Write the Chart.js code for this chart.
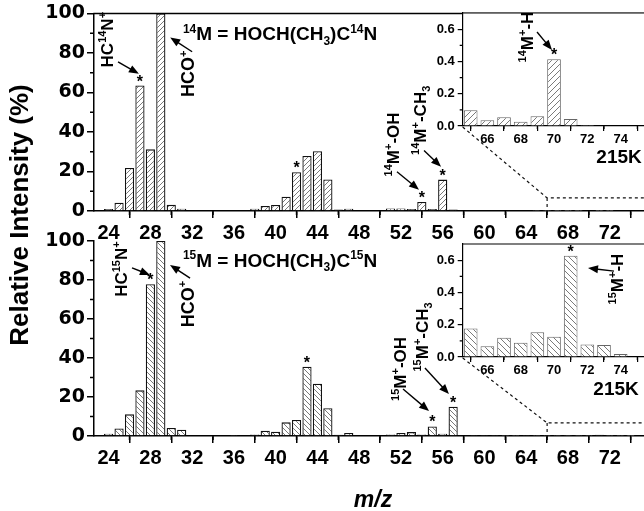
<!DOCTYPE html>
<html>
<head>
<meta charset="utf-8">
<script src="https://cdn.jsdelivr.net/npm/chart.js@4.4.1/dist/chart.umd.min.js"></script>
<style>
  html, body { margin: 0; padding: 0; background: #fff; overflow: hidden; }
  #wrap { position: relative; width: 644px; height: 511px; }
  #wrap canvas { position: absolute; left: 0; top: 0; }
</style>
</head>
<body>
<div id="wrap">
  <canvas id="top14" width="644" height="511"></canvas>
  <canvas id="bot15" width="644" height="511"></canvas>
  <canvas id="ins14" width="644" height="511"></canvas>
  <canvas id="ins15" width="644" height="511"></canvas>
</div>
<script>
// m/z channels of the full spectra
const mzMain = [24, 25, 26, 27, 28, 29, 30, 31, 32, 33, 34, 35, 36, 37, 38, 39, 40, 41, 42, 43,
  44, 45, 46, 47, 48, 49, 50, 51, 52, 53, 54, 55, 56, 57, 58, 59, 60, 61, 62, 63, 64];
// relative intensity (%), HOCH(CH3)C14N
const int14 = [1.0, 4.2, 21.8, 63.5, 31.2, 100, 3.1, 1.2, 0.3, 0, 0, 0, 0.3, 0.5, 1.2, 2.5, 3.0, 7.2, 19.6, 27.8,
  30.2, 16.0, 0.7, 1.2, 0, 0, 0.3, 1.3, 1.3, 1.0, 4.6, 1.0, 15.9, 0.7, 0.3, 0, 0.3, 0.3, 0, 0, 0];
// relative intensity (%), HOCH(CH3)C15N
const int15 = [1.2, 3.9, 11.1, 23.4, 77.8, 100, 4.1, 3.2, 0.3, 0, 0, 0, 0.2, 0.4, 0.8, 2.7, 2.2, 7.0, 8.2, 35.5,
  26.8, 14.2, 0.7, 1.5, 0, 0, 0.3, 0.8, 1.5, 2.0, 0.8, 4.9, 1.2, 15.0, 0.5, 0.2, 0.2, 0.2, 0.1, 0.1, 0.2];
// zoomed region (insets)
const mzInset = [65, 66, 67, 68, 69, 70, 71, 72, 73, 74];
const ins14 = [0.097, 0.035, 0.054, 0.027, 0.060, 0.414, 0.043, 0.006, 0, 0];
const ins15 = [0.176, 0.066, 0.120, 0.089, 0.153, 0.126, 0.627, 0.077, 0.075, 0.019];

const mainXTicks = [24, 28, 32, 36, 40, 44, 48, 52, 56, 60, 64, 68, 72];
const mainXMinor = [26, 30, 34, 38, 42, 46, 50, 54, 58, 62, 66, 70, 74];
const mainYTicks = [0, 20, 40, 60, 80, 100];
const mainYMinor = [10, 30, 50, 70, 90];
const insXTicks = [66, 68, 70, 72, 74];
const insXMinor = [65, 67, 69, 71, 73, 75];
const insYTicks = [0, 0.2, 0.4, 0.6];
const insYMinor = [0.1, 0.3, 0.5];

// starred peaks
const stars14 = [27, 42, 54, 56];
const stars15 = [28, 43, 55, 57];
const starsIns14 = [70];
const starsIns15 = [71];

Chart.defaults.font.family = "'Liberation Sans', Arial, Helvetica, sans-serif";
Chart.defaults.font.weight = 'bold';
Chart.defaults.color = '#000';

const FONT = "'Liberation Sans', Arial, sans-serif";

function hatch(ctx, dir, s) {
  const c = document.createElement('canvas');
  c.width = s; c.height = s;
  const g = c.getContext('2d');
  g.fillStyle = '#fff';
  g.fillRect(0, 0, s, s);
  g.strokeStyle = '#7a7a7a';
  g.lineWidth = 1;
  g.beginPath();
  if (dir === '/') {
    g.moveTo(-1, s + 1); g.lineTo(s + 1, -1);
    g.moveTo(-1, 1); g.lineTo(1, -1);
    g.moveTo(s - 1, s + 1); g.lineTo(s + 1, s - 1);
  } else {
    g.moveTo(-1, -1); g.lineTo(s + 1, s + 1);
    g.moveTo(s - 1, -1); g.lineTo(s + 1, 1);
    g.moveTo(-1, s - 1); g.lineTo(1, s + 1);
  }
  g.stroke();
  return ctx.createPattern(c, 'repeat');
}

// text with super/subscripts, centred on (x, y); rot = true reads bottom-to-top
function drawRich(ctx, runs, x, y, size, rot) {
  ctx.save();
  ctx.translate(x, y);
  if (rot) ctx.rotate(-Math.PI / 2);
  ctx.fillStyle = '#000';
  ctx.textBaseline = 'alphabetic';
  ctx.textAlign = 'left';
  const fontOf = m => 'bold ' + (m ? Math.round(size * 0.62) : size) + 'px ' + FONT;
  let w = 0;
  runs.forEach(([t, m]) => { ctx.font = fontOf(m); w += ctx.measureText(t).width; });
  let cx = -w / 2;
  const base = size * 0.36;
  runs.forEach(([t, m]) => {
    ctx.font = fontOf(m);
    const dy = m === 'sup' ? -size * 0.4 : m === 'sub' ? size * 0.22 : 0;
    ctx.fillText(t, cx, base + dy);
    cx += ctx.measureText(t).width;
  });
  ctx.restore();
}

function arrow(ctx, x1, y1, x2, y2) {
  const ang = Math.atan2(y2 - y1, x2 - x1);
  const L = 10, W = 4;
  ctx.save();
  ctx.strokeStyle = '#000';
  ctx.fillStyle = '#000';
  ctx.lineWidth = 1.4;
  ctx.beginPath();
  ctx.moveTo(x1, y1);
  ctx.lineTo(x2 - L * 0.8 * Math.cos(ang), y2 - L * 0.8 * Math.sin(ang));
  ctx.stroke();
  ctx.beginPath();
  ctx.moveTo(x2, y2);
  ctx.lineTo(x2 - L * Math.cos(ang) + W * Math.sin(ang), y2 - L * Math.sin(ang) - W * Math.cos(ang));
  ctx.lineTo(x2 - L * Math.cos(ang) - W * Math.sin(ang), y2 - L * Math.sin(ang) + W * Math.cos(ang));
  ctx.closePath();
  ctx.fill();
  ctx.restore();
}

// axis frame: top border, minor ticks, white plot background for insets
function framePlugin(cfg) {
  return {
    id: 'frame',
    beforeDraw(chart) {
      if (!cfg.white) return;
      const a = chart.chartArea, ctx = chart.ctx;
      ctx.save();
      ctx.fillStyle = '#fff';
      ctx.fillRect(a.left, a.top, a.right - a.left, a.bottom - a.top);
      ctx.restore();
    },
    afterDraw(chart) {
      const { ctx, chartArea: a } = chart;
      const x = chart.scales.x, y = chart.scales.y;
      ctx.save();
      ctx.strokeStyle = '#000';
      ctx.lineWidth = cfg.lw;
      ctx.beginPath();
      if (cfg.topBorder) { ctx.moveTo(a.left - 0.7, a.top); ctx.lineTo(a.right, a.top); }
      cfg.xMinor.forEach(v => {
        const p = x.getPixelForValue(v);
        if (p > a.left && p < a.right) { ctx.moveTo(p, a.bottom); ctx.lineTo(p, a.bottom + cfg.minor); }
      });
      cfg.yMinor.forEach(v => {
        const p = y.getPixelForValue(v);
        ctx.moveTo(a.left, p); ctx.lineTo(a.left - cfg.minor, p);
      });
      ctx.stroke();
      ctx.restore();
    }
  };
}

function notesPlugin(cfg) {
  return {
    id: 'notes',
    afterDraw(chart) {
      const ctx = chart.ctx;
      const x = chart.scales.x, y = chart.scales.y;
      const px = v => x.getPixelForValue(v), py = v => y.getPixelForValue(v);
      const pts = chart.data.datasets[0].data;
      (cfg.stars || []).forEach(m => {
        const d = pts.find(p => p.x === m);
        ctx.save();
        ctx.font = 'bold 16px ' + FONT;
        ctx.textAlign = 'center';
        ctx.textBaseline = 'alphabetic';
        ctx.fillText('*', px(m), py(d.y) + 1);
        ctx.restore();
      });
      (cfg.labels || []).forEach(l => drawRich(ctx, l.runs, px(l.x), py(l.y), l.size, l.rot));
      (cfg.arrows || []).forEach(r => arrow(ctx, px(r[0]), py(r[1]), px(r[2]), py(r[3])));
      if (cfg.extra) cfg.extra(chart);
    }
  };
}

function makeChart(id, cfg) {
  const el = document.getElementById(id);
  const ctx = el.getContext('2d');
  const data = cfg.mz.map((m, i) => ({ x: m, y: cfg.vals[i] }));
  const axisGrid = { drawOnChartArea: false, drawTicks: true, tickLength: cfg.tl, color: '#000', lineWidth: cfg.lw };
  return new Chart(el, {
    type: 'bar',
    data: {
      datasets: [{
        data,
        backgroundColor: hatch(ctx, cfg.dir, cfg.hs),
        borderColor: cfg.edge,
        borderWidth: cfg.bw,
        barPercentage: cfg.bp,
        categoryPercentage: 1
      }]
    },
    options: {
      responsive: false,
      animation: false,
      events: [],
      layout: { padding: cfg.pad },
      plugins: { legend: { display: false }, tooltip: { enabled: false } },
      scales: {
        x: {
          type: 'linear', min: cfg.xmin, max: cfg.xmax, offset: false,
          afterFit: s => { s.height = cfg.xh; },
          afterBuildTicks: s => { s.ticks = cfg.xt.map(v => ({ value: v })); },
          ticks: { font: { size: cfg.fx, weight: 'bold' }, padding: cfg.xpad, autoSkip: false, maxRotation: 0 },
          grid: axisGrid,
          border: { color: '#000', width: cfg.lw }
        },
        y: {
          min: cfg.ymin, max: cfg.ymax,
          afterFit: s => { s.width = cfg.yw; },
          afterBuildTicks: s => { s.ticks = cfg.yt.map(v => ({ value: v })); },
          ticks: { font: cfg.yfont, padding: cfg.ypad, callback: cfg.yfmt },
          grid: axisGrid,
          border: { color: '#000', width: cfg.lw }
        }
      }
    },
    plugins: [framePlugin(cfg), notesPlugin(cfg)]
  });
}

const sup = t => [t, 'sup'], sub = t => [t, 'sub'], n = t => [t, ''];

function mainCfg(vals, pad, dir, stars, labels, arrows, extra) {
  return {
    mz: mzMain.concat(mzInset), vals: vals.concat(dir === '/' ? ins14 : ins15),
    xmin: 22.6, xmax: 75.28, ymin: 0, ymax: 100,
    xt: mainXTicks, yt: mainYTicks, xMinor: mainXMinor, yMinor: mainYMinor,
    pad, xh: 30, yw: 94, fx: 20, xpad: 3, ypad: 2, tl: 7, minor: 4, lw: 1.5,
    yfont: { family: "'DejaVu Sans', sans-serif", size: 19, weight: 'bold' },
    dir, hs: 5, edge: '#111', bw: 1.3, bp: 0.88,
    topBorder: dir === '/', white: false,
    stars, labels, arrows, extra
  };
}

function insetCfg(vals, pad, dir, stars, labels, arrows, extra) {
  return {
    mz: mzInset, vals,
    xmin: 64.52, xmax: 75.4, ymin: 0, ymax: 0.7,
    xt: insXTicks, yt: insYTicks, xMinor: insXMinor, yMinor: insYMinor,
    pad, xh: 25, yw: 40, fx: 13, xpad: 1, ypad: 3, tl: 5, minor: 3, lw: 1.2,
    yfont: { size: 13, weight: 'bold' },
    yfmt: v => v.toFixed(1),
    dir, hs: 6, edge: '#666', bw: 1, bp: 0.82,
    topBorder: true, white: true,
    stars, labels, arrows, extra
  };
}

function text215(chart, xv, yv) {
  const ctx = chart.ctx;
  ctx.save();
  ctx.font = 'bold 19px ' + FONT;
  ctx.textAlign = 'center';
  ctx.textBaseline = 'alphabetic';
  ctx.fillText('215K', chart.scales.x.getPixelForValue(xv), chart.scales.y.getPixelForValue(yv) + 7);
  ctx.restore();
}

const top14 = makeChart('top14', mainCfg(int14, { left: 0, top: 13, right: 0, bottom: 270 }, '/', stars14, [
  { runs: [n('HC'), sup('14'), n('N'), sup('+')], x: 23.85, y: 86.7, size: 17, rot: true },
  { runs: [n('HCO'), sup('+')], x: 31.6, y: 69.4, size: 18, rot: true },
  { runs: [sup('14'), n('M = HOCH(CH'), sub('3'), n(')C'), sup('14'), n('N')], x: 40.42, y: 89.8, size: 19, rot: false },
  { runs: [sup('14'), n('M'), sup('+'), n('-OH')], x: 51.24, y: 33.7, size: 17, rot: true },
  { runs: [sup('14'), n('M'), sup('+'), n('-CH'), sub('3')], x: 53.83, y: 45.9, size: 17, rot: true }
], [
  [24.9, 75.5, 26.9, 69.4],
  [32.0, 80.6, 29.9, 87.8],
  [51.62, 19.9, 53.73, 10.7],
  [54.21, 30.6, 55.84, 22.4]
], chart => text215(chart, 72.89, 27.6)));

const bot15 = makeChart('bot15', mainCfg(int15, { left: 0, top: 241, right: 0, bottom: 45 }, '\\', stars15, [
  { runs: [n('HC'), sup('15'), n('N'), sup('+')], x: 25.19, y: 85.6, size: 17, rot: true },
  { runs: [n('HCO'), sup('+')], x: 31.51, y: 67.7, size: 18, rot: true },
  { runs: [sup('15'), n('M = HOCH(CH'), sub('3'), n(')C'), sup('15'), n('N')], x: 40.42, y: 90.3, size: 19, rot: false },
  { runs: [sup('15'), n('M'), sup('+'), n('-OH')], x: 51.91, y: 34.4, size: 17, rot: true },
  { runs: [sup('15'), n('M'), sup('+'), n('-CH'), sub('3')], x: 54.02, y: 50.8, size: 17, rot: true }
], [
  [26.24, 86.2, 27.96, 82.6],
  [31.8, 81.0, 29.88, 87.7],
  [52.2, 24.1, 54.69, 12.8],
  [54.3, 34.9, 56.6, 21.5]
], chart => {
  text215(chart, 72.6, 24.6);
  const ctx = chart.ctx;
  ctx.save();
  ctx.fillStyle = '#000';
  ctx.translate(28, 215);
  ctx.rotate(-Math.PI / 2);
  ctx.font = 'bold 26px ' + FONT;
  ctx.textAlign = 'center';
  ctx.fillText('Relative Intensity (%)', 0, 0);
  ctx.restore();
  ctx.save();
  ctx.font = 'italic bold 23px ' + FONT;
  ctx.textAlign = 'center';
  ctx.fillText('m/z', 373, 507);
  ctx.restore();
}));

// dashed zoom guide from inset corner to the zoomed range on the main axis
function guide(main, zx, zy) {
  return chart => {
    const a = chart.chartArea, ctx = chart.ctx;
    const mx = main.scales.x.getPixelForValue(zx), my = main.scales.y.getPixelForValue(zy);
    const ma = main.chartArea;
    ctx.save();
    ctx.strokeStyle = '#111';
    ctx.lineWidth = 1.2;
    ctx.setLineDash([3, 3]);
    ctx.beginPath();
    ctx.moveTo(a.left, a.bottom + 1);
    ctx.lineTo(mx, my);
    ctx.lineTo(ma.right, my);
    ctx.moveTo(mx, my);
    ctx.lineTo(mx, ma.bottom);
    ctx.stroke();
    ctx.restore();
  };
}

makeChart('ins14', insetCfg(ins14, { left: 422.7, top: 13, right: 0, bottom: 360 }, '/', starsIns14, [
  { runs: [sup('14'), n('M'), sup('+'), n('-H')], x: 68.38, y: 0.551, size: 17, rot: true }
], [
  [68.98, 0.582, 69.88, 0.471]
], guide(top14, 66, 6.6)));

makeChart('ins15', insetCfg(ins15, { left: 422.7, top: 244, right: 0, bottom: 129 }, '\\', starsIns15, [
  { runs: [sup('15'), n('M'), sup('+'), n('-H')], x: 73.78, y: 0.483, size: 17, rot: true }
], [
  [73.6, 0.532, 72.04, 0.551]
], guide(bot15, 66, 6.7)));
</script>
</body>
</html>
